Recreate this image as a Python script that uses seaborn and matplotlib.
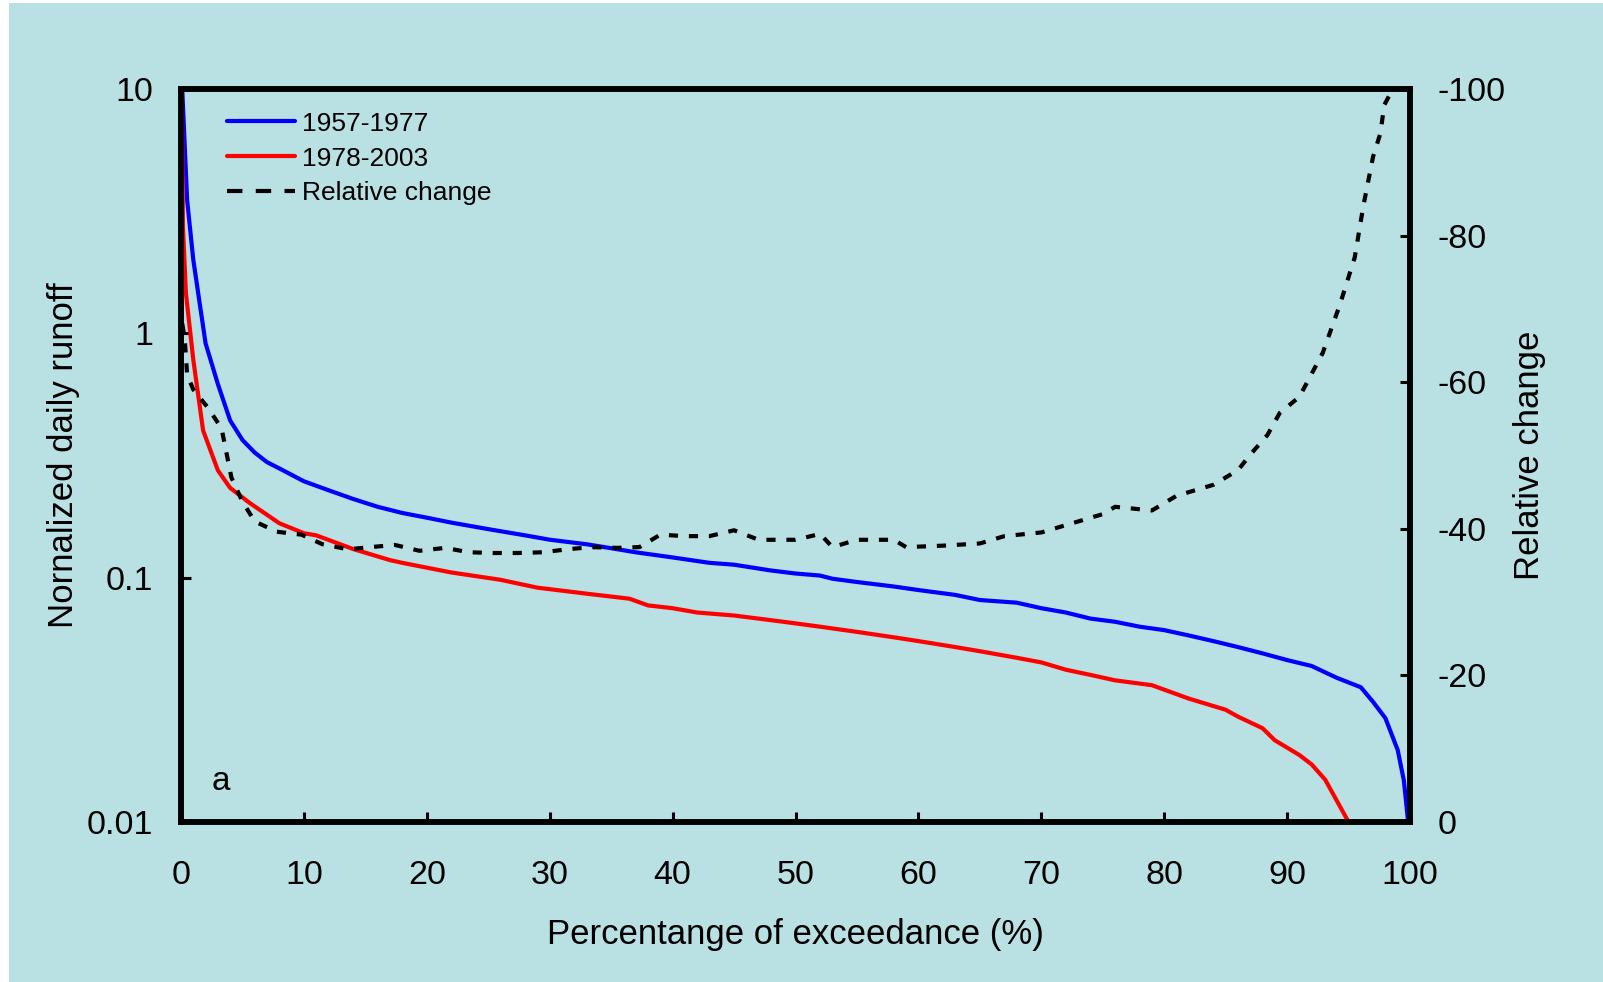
import matplotlib
matplotlib.use("Agg")
import matplotlib.pyplot as plt
import matplotlib.ticker as mticker
from matplotlib.lines import Line2D
from matplotlib.patches import Rectangle
import pandas as pd
import seaborn as sns

# --------------------------
# DATA
# --------------------------
x_early = [0.1, 0.5, 1, 2, 3, 4, 5, 6, 7, 8, 10, 12, 14, 16, 18, 20, 22, 25, 28, 30,
           33, 35, 37, 40, 43, 45, 48, 50, 52, 53, 55, 58, 60, 63, 65, 68, 70, 72, 74,
           76, 78, 80, 82, 84, 86, 88, 90, 92, 94, 96, 97, 98, 99, 99.5, 99.85]
runoff_early = [10, 3.5, 2.0, 0.91, 0.62, 0.44, 0.366, 0.325, 0.297, 0.28, 0.248, 0.228,
                0.21, 0.195, 0.184, 0.176, 0.168, 0.158, 0.149, 0.143, 0.137, 0.132, 0.127,
                0.121, 0.115, 0.113, 0.107, 0.104, 0.102, 0.099, 0.096, 0.092, 0.089, 0.085,
                0.081, 0.079, 0.075, 0.072, 0.068, 0.066, 0.063, 0.061, 0.058, 0.055, 0.052,
                0.049, 0.046, 0.0435, 0.039, 0.0356, 0.031, 0.0266, 0.0197, 0.0148, 0.01]

x_late = [0.05, 0.16, 0.4, 1, 1.8, 3, 4, 5.6, 8, 10, 11, 14, 17, 18, 22, 26, 29, 33,
          36.5, 38, 40, 42, 45, 48, 50, 52, 55, 58, 60, 63, 65, 68, 70, 72, 74, 76, 79,
          82, 85, 86, 88, 89, 91, 92, 93.1, 95]
runoff_late = [10, 2.7, 1.46, 0.78, 0.40, 0.275, 0.233, 0.202, 0.167, 0.152, 0.149, 0.131,
               0.118, 0.115, 0.105, 0.098, 0.091, 0.086, 0.082, 0.077, 0.075, 0.072, 0.070,
               0.067, 0.065, 0.063, 0.060, 0.057, 0.055, 0.052, 0.050, 0.047, 0.045, 0.042,
               0.040, 0.038, 0.0363, 0.032, 0.0288, 0.027, 0.0242, 0.0216, 0.0188, 0.0172,
               0.0149, 0.01]

x_change = [0.1, 0.3, 0.5, 1, 2.2, 3.3, 4.1, 5, 6, 7.8, 9.8, 11.5, 13.6, 15.4, 17.4, 19.4,
            21.5, 23.4, 25.4, 27.4, 29.5, 31.4, 33.4, 35.5, 37.3, 39, 41, 43, 45, 47, 50,
            52, 53, 55, 58, 59, 62, 65, 67, 70, 72, 75, 76, 79, 81, 84, 86, 87.1, 88.4,
            89.4, 91, 92.9, 94.3, 95.5, 96.2, 97, 97.6, 97.9, 98.6]
rel_change = [-68, -66, -61, -59, -56.5, -53.7, -47, -43.7, -41, -39.6, -39.2, -37.9,
              -37.2, -37.5, -37.8, -37, -37.4, -36.8, -36.7, -36.7, -36.8, -37.2, -37.5,
              -37.4, -37.5, -39.2, -39, -39, -39.8, -38.5, -38.5, -39.3, -37.5, -38.5,
              -38.5, -37.5, -37.7, -38, -39, -39.5, -40.5, -42, -43, -42.5, -44.5, -46,
              -48, -50.3, -52.8, -55.8, -58, -64, -70.6, -77, -84, -90.8, -94, -97.8, -100]

BG = "#b9e0e3"
BLUE = "#0000ff"
RED = "#ff0000"

# --------------------------
# STYLE
# --------------------------
sns.set_style("ticks")
plt.rcParams["font.family"] = ["Liberation Sans", "DejaVu Sans"]
plt.rcParams.update({
    "axes.unicode_minus": False,
    "text.color": "black",
    "axes.labelcolor": "black",
    "xtick.color": "black",
    "ytick.color": "black",
})

fig = plt.figure(figsize=(16.03, 9.82), dpi=100)
fig.patch.set_facecolor("white")
fig.patches.append(Rectangle((9 / 1603, 0), 1, 1 - 3 / 982, transform=fig.transFigure,
                             facecolor=BG, edgecolor="none", zorder=-10))

ax = fig.add_axes([181 / 1603, 1 - 822 / 982, 1229 / 1603, 733 / 982])
ax.set_facecolor(BG)

df_early = pd.DataFrame({"x": x_early, "y": runoff_early})
df_late = pd.DataFrame({"x": x_late, "y": runoff_late})
df_change = pd.DataFrame({"x": x_change, "y": rel_change})

sns.lineplot(data=df_early, x="x", y="y", ax=ax, color=BLUE, lw=3.0, zorder=3)
sns.lineplot(data=df_late, x="x", y="y", ax=ax, color=RED, lw=3.0, zorder=3)

ax.set_yscale("log")
ax.set_xlim(0, 100)
ax.set_ylim(0.01, 10)
ax.set_xticks(range(0, 101, 10))
ax.set_yticks([0.01, 0.1, 1, 10])
ax.yaxis.set_major_formatter(mticker.FuncFormatter(lambda v, p: f"{v:g}"))
ax.yaxis.set_minor_locator(mticker.NullLocator())

ax2 = ax.twinx()
sns.lineplot(data=df_change, x="x", y="y", ax=ax2, color="black", lw=3.0,
             dashes=False, zorder=3)
ax2.lines[0].set_dashes([2.2, 2.6])
ax2.set_ylim(0, -100)
ax2.set_yticks(range(0, -101, -20))

for a in (ax, ax2):
    for sp in a.spines.values():
        sp.set_linewidth(4)
        sp.set_color("black")
    a.tick_params(direction="in", length=7, width=2.2, labelsize=24.5, color="black", pad=20)
    a.set_xlabel("")
    a.set_ylabel("")
ax.tick_params(axis="x", pad=27)

ax.set_xlabel("Percentange of exceedance (%)", fontsize=25, labelpad=20)
ax.set_ylabel("Nornalized daily runoff", fontsize=25, labelpad=5)
ax2.set_ylabel("Relative change", fontsize=25, labelpad=5)

ax.text(0.025, 0.055, "a", transform=ax.transAxes, fontsize=24, va="center", ha="left")

handles = [Line2D([], [], color=BLUE, lw=3.0),
           Line2D([], [], color=RED, lw=3.0),
           Line2D([], [], color="black", lw=3.0, dashes=[3.7, 3.2])]
ax2.legend(handles, ["1957-1977", "1978-2003", "Relative change"], loc="upper left",
           bbox_to_anchor=(0.0374, 0.969), frameon=False, fontsize=19, borderpad=0,
           borderaxespad=0, handlelength=2.58, handletextpad=0.27, labelspacing=0.41)

fig.savefig("out.png", dpi=100, facecolor=fig.get_facecolor())
